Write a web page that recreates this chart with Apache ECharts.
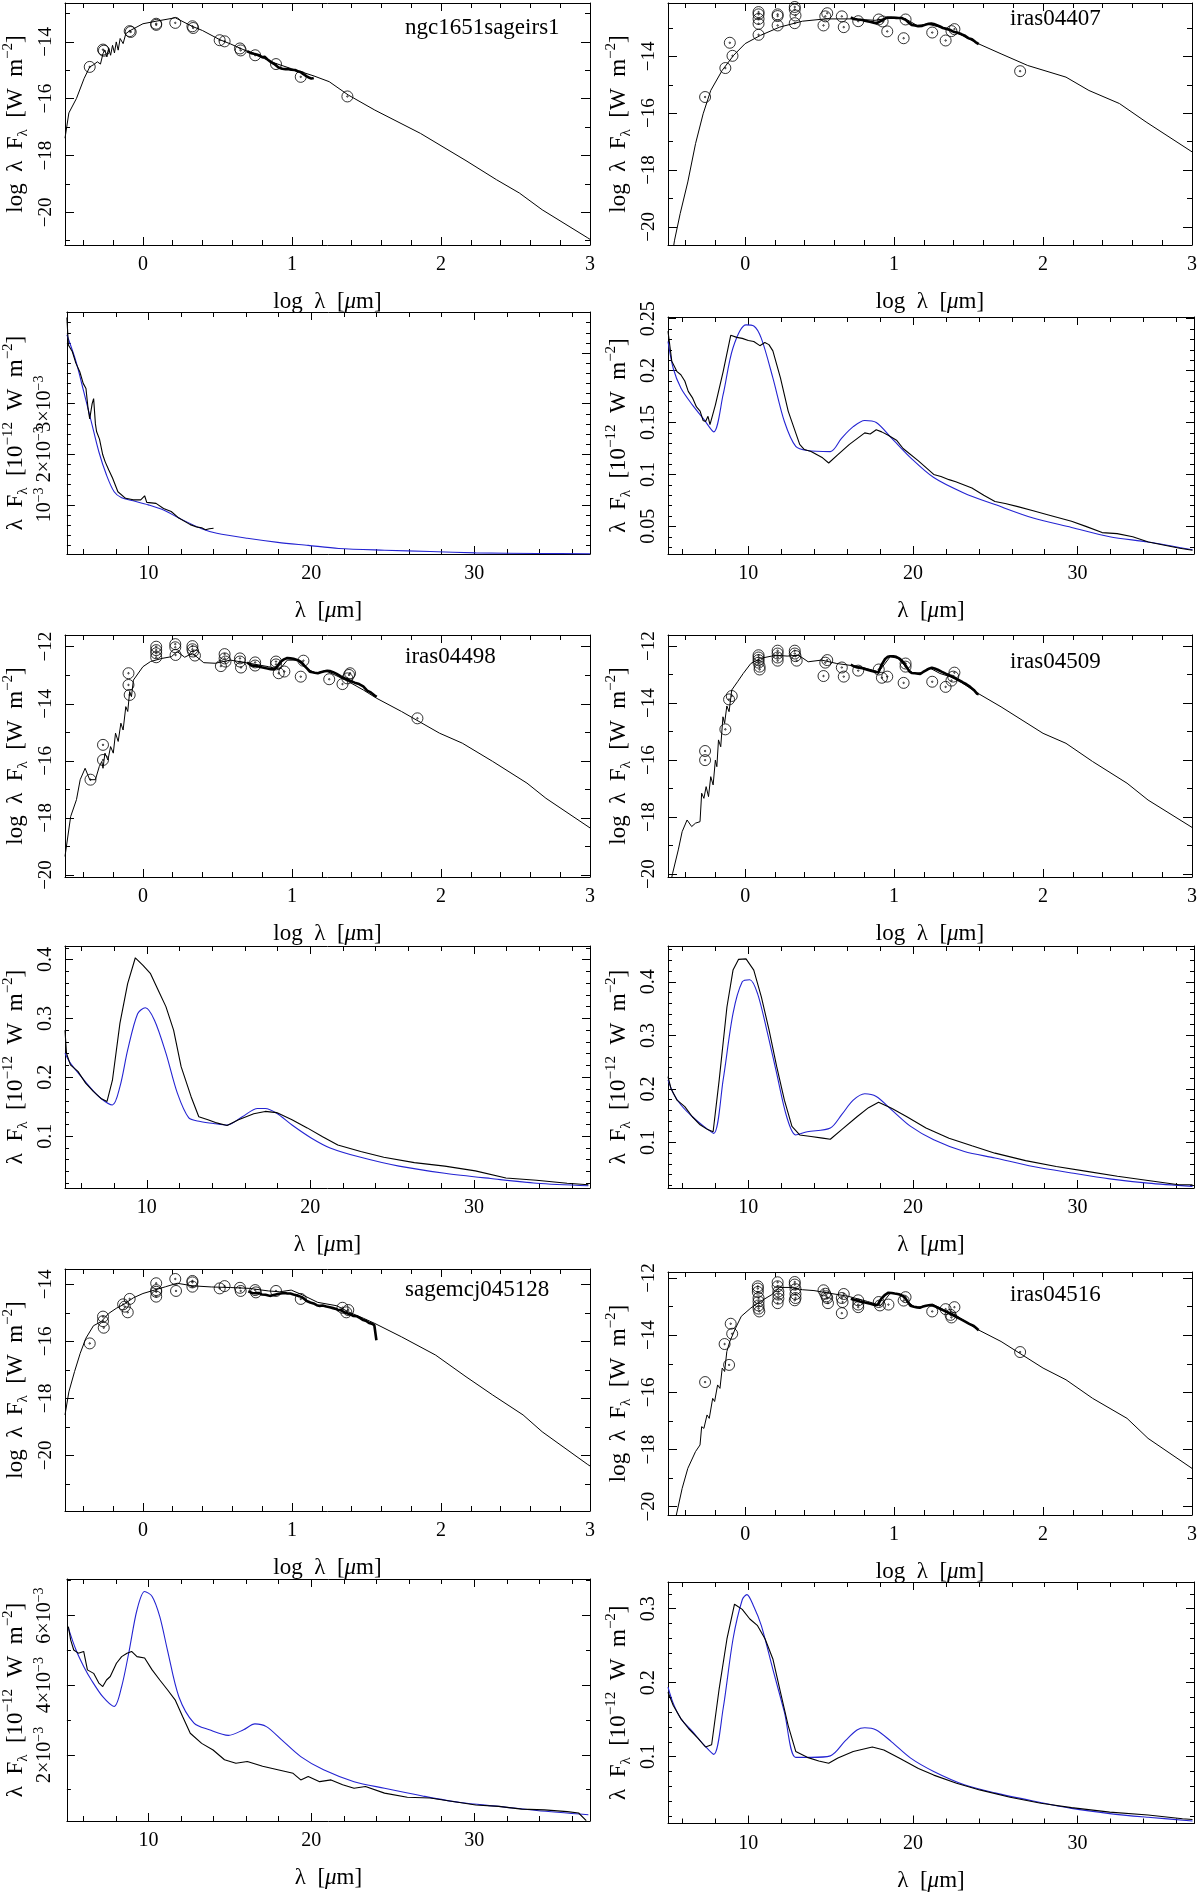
<!DOCTYPE html>
<html>
<head>
<meta charset="utf-8">
<script src="https://cdn.jsdelivr.net/npm/echarts@6/dist/echarts.min.js"></script>
<style>
    html, body { margin: 0; padding: 0; background: #fff; }
    #chart { width: 1200px; height: 1893px; }
</style>
</head>
<body>
<div id="chart"></div>
<script>
    // object names
    var sedNames = ['ngc1651sageirs1', 'iras04407', 'iras04498', 'iras04509', 'sagemcj045128', 'iras04516'];

    // ---- SED panels: [log lambda (um), log lambda F_lambda (W m^-2)]
    var sedModel1651 = [[-0.523,-17.39],[-0.497,-16.5],[-0.446,-15.99],[-0.395,-15.29],[-0.357,-14.88],[-0.33,-14.8],[-0.306,-14.7],[-0.285,-14.78],[-0.268,-14.41],[-0.255,-14.29],[-0.242,-14.53],[-0.23,-14.23],[-0.217,-14.47],[-0.204,-14.12],[-0.191,-14.39],[-0.179,-14.0],[-0.166,-14.29],[-0.153,-13.88],[-0.133,-14.06],[-0.115,-13.71],[-0.089,-13.61],[0,-13.36],[0.1,-13.26],[0.217,-13.15],[0.33,-13.45],[0.4,-13.6],[0.515,-13.92],[0.587,-14.07],[0.651,-14.22],[0.753,-14.45],[0.893,-14.76],[0.995,-14.94],[1.148,-15.2],[1.25,-15.4],[1.378,-15.87],[1.556,-16.4],[1.862,-17.22],[2.168,-18.18],[2.372,-18.85],[2.526,-19.32],[2.679,-19.91],[2.985,-20.9],[3.0,-20.95]];
    var sedPhot1651 = [[-0.357,-14.88],[-0.268,-14.27],[-0.262,-14.31],[-0.089,-13.62],[-0.082,-13.65],[0.089,-13.36],[0.089,-13.4],[0.217,-13.33],[0.332,-13.45],[0.337,-13.51],[0.515,-13.94],[0.548,-13.98],[0.651,-14.23],[0.656,-14.3],[0.753,-14.47],[0.893,-14.78],[1.059,-15.23],[1.372,-15.92]];

    var sedModel04407 = [[-0.49,-21.0],[-0.474,-20.47],[-0.436,-19.53],[-0.385,-18.42],[-0.333,-17.07],[-0.282,-16.02],[-0.231,-15.2],[-0.154,-14.49],[-0.077,-13.96],[0,-13.55],[0.103,-13.26],[0.231,-12.97],[0.385,-12.76],[0.538,-12.68],[0.718,-12.68],[0.872,-12.73],[1.0,-12.62],[1.077,-12.68],[1.154,-12.91],[1.23,-12.87],[1.308,-12.97],[1.41,-13.14],[1.564,-13.55],[1.718,-13.91],[1.897,-14.32],[2.154,-14.73],[2.308,-15.2],[2.513,-15.66],[2.692,-16.31],[3.0,-17.36]];
    var sedPhot04407 = [[-0.269,-15.43],[-0.133,-14.41],[-0.103,-13.52],[-0.085,-13.98],[0.09,-12.44],[0.09,-12.52],[0.09,-12.68],[0.09,-12.85],[0.09,-13.24],[0.218,-12.52],[0.218,-12.58],[0.218,-12.91],[0.333,-12.26],[0.333,-12.35],[0.338,-12.56],[0.333,-12.83],[0.526,-12.91],[0.538,-12.59],[0.551,-12.48],[0.649,-12.59],[0.662,-12.97],[0.759,-12.76],[0.897,-12.7],[0.923,-12.77],[0.954,-13.12],[1.064,-13.36],[1.077,-12.7],[1.256,-13.16],[1.346,-13.44],[1.385,-13.11],[1.405,-13.04],[1.846,-14.52]];

    var sedModel04498 = [[-0.523,-19.35],[-0.485,-17.95],[-0.446,-17.36],[-0.421,-16.66],[-0.388,-16.26],[-0.357,-16.66],[-0.319,-16.66],[-0.293,-16.2],[-0.276,-16.02],[-0.268,-16.26],[-0.255,-15.73],[-0.235,-15.97],[-0.217,-15.5],[-0.199,-15.73],[-0.184,-15.03],[-0.166,-15.32],[-0.148,-14.68],[-0.133,-14.92],[-0.115,-14.1],[-0.102,-14.27],[-0.089,-13.57],[-0.077,-13.75],[-0.064,-13.17],[0,-12.7],[0.051,-12.52],[0.128,-12.41],[0.191,-12.35],[0.23,-12.17],[0.28,-12.37],[0.332,-12.23],[0.408,-12.56],[0.485,-12.58],[0.587,-12.47],[0.714,-12.58],[0.842,-12.7],[0.918,-12.79],[0.969,-12.47],[1.033,-12.47],[1.097,-12.76],[1.161,-12.93],[1.224,-12.84],[1.288,-12.99],[1.378,-13.22],[1.48,-13.52],[1.569,-13.81],[1.735,-14.27],[1.99,-15.03],[2.143,-15.38],[2.347,-16.02],[2.577,-16.78],[2.704,-17.31],[3.0,-18.35]];
    var sedPhot04498 = [[-0.352,-16.66],[-0.268,-15.44],[-0.268,-15.97],[-0.097,-12.93],[-0.097,-13.34],[-0.089,-13.69],[0.089,-12.0],[0.089,-12.12],[0.089,-12.23],[0.089,-12.37],[0.217,-11.91],[0.217,-12.02],[0.219,-12.29],[0.332,-11.98],[0.332,-12.09],[0.337,-12.17],[0.349,-12.31],[0.523,-12.68],[0.548,-12.26],[0.548,-12.41],[0.554,-12.52],[0.651,-12.41],[0.651,-12.52],[0.658,-12.73],[0.753,-12.55],[0.753,-12.66],[0.893,-12.52],[0.893,-12.62],[0.911,-12.93],[0.949,-12.87],[1.059,-13.05],[1.077,-12.49],[1.25,-13.14],[1.339,-13.31],[1.372,-13.11],[1.383,-12.99],[1.39,-12.93],[1.842,-14.51]];

    var sedModel04509 = [[-0.5,-20.3],[-0.487,-19.97],[-0.449,-19.15],[-0.423,-18.51],[-0.39,-18.1],[-0.359,-18.33],[-0.333,-18.21],[-0.303,-18.16],[-0.292,-17.16],[-0.277,-17.34],[-0.262,-16.93],[-0.246,-17.28],[-0.231,-16.58],[-0.215,-16.87],[-0.2,-16.0],[-0.19,-16.23],[-0.179,-15.29],[-0.164,-15.53],[-0.149,-14.48],[-0.138,-14.71],[-0.123,-14.1],[-0.108,-14.3],[-0.09,-13.54],[-0.051,-13.25],[-0.013,-12.96],[0.038,-12.61],[0.103,-12.43],[0.205,-12.32],[0.282,-12.35],[0.359,-12.32],[0.423,-12.55],[0.513,-12.49],[0.615,-12.61],[0.769,-12.72],[0.897,-12.9],[0.974,-12.37],[1.026,-12.43],[1.077,-12.72],[1.128,-12.96],[1.192,-12.93],[1.244,-12.78],[1.308,-12.96],[1.41,-13.13],[1.564,-13.66],[1.718,-14.13],[2.0,-15.06],[2.154,-15.41],[2.333,-16.05],[2.564,-16.81],[2.705,-17.4],[3.0,-18.36]];
    var sedPhot04509 = [[-0.269,-15.68],[-0.269,-16.0],[-0.133,-14.92],[-0.108,-13.87],[-0.09,-13.75],[0.09,-12.32],[0.09,-12.4],[0.09,-12.49],[0.09,-12.58],[0.097,-12.72],[0.097,-12.82],[0.218,-12.16],[0.218,-12.26],[0.218,-12.4],[0.218,-12.51],[0.333,-12.16],[0.333,-12.26],[0.338,-12.35],[0.346,-12.51],[0.526,-13.05],[0.538,-12.58],[0.551,-12.49],[0.649,-12.75],[0.662,-13.07],[0.759,-12.86],[0.897,-12.82],[0.918,-13.11],[0.954,-13.07],[1.064,-13.29],[1.077,-12.61],[1.077,-12.72],[1.256,-13.25],[1.346,-13.43],[1.385,-13.21],[1.397,-13.07],[1.405,-12.93]];

    var sedModel045128 = [[-0.523,-18.58],[-0.497,-17.77],[-0.459,-17.06],[-0.421,-16.42],[-0.383,-15.89],[-0.332,-15.45],[-0.281,-15.31],[-0.23,-15.02],[-0.179,-14.84],[-0.128,-14.7],[-0.064,-14.47],[0,-14.32],[0.077,-14.2],[0.153,-14.08],[0.23,-13.96],[0.332,-14.05],[0.459,-14.09],[0.587,-14.11],[0.714,-14.14],[0.842,-14.23],[0.918,-14.26],[0.995,-14.2],[1.071,-14.37],[1.173,-14.63],[1.301,-14.75],[1.378,-14.96],[1.48,-15.19],[1.556,-15.37],[1.735,-15.84],[1.964,-16.48],[2.168,-17.24],[2.347,-17.88],[2.551,-18.58],[2.679,-19.17],[2.985,-20.32],[3.0,-20.37]];
    var sedPhot045128 = [[-0.357,-16.07],[-0.268,-15.13],[-0.268,-15.29],[-0.263,-15.52],[-0.133,-14.7],[-0.122,-14.78],[-0.102,-14.98],[-0.089,-14.51],[0.089,-13.96],[0.089,-14.2],[0.089,-14.26],[0.089,-14.43],[0.217,-13.81],[0.222,-14.23],[0.332,-13.88],[0.332,-13.93],[0.332,-14.08],[0.515,-14.14],[0.548,-14.06],[0.651,-14.12],[0.656,-14.23],[0.753,-14.2],[0.758,-14.28],[0.893,-14.23],[1.059,-14.51],[1.339,-14.82],[1.365,-14.98],[1.378,-14.9]];

    var sedModel04516 = [[-0.475,-21.0],[-0.462,-20.29],[-0.423,-19.36],[-0.385,-18.66],[-0.333,-18.07],[-0.303,-17.84],[-0.292,-17.2],[-0.277,-17.26],[-0.256,-16.79],[-0.241,-16.91],[-0.218,-16.21],[-0.205,-16.32],[-0.185,-15.74],[-0.169,-15.86],[-0.154,-15.15],[-0.138,-15.27],[-0.123,-14.57],[-0.103,-14.22],[-0.064,-13.75],[-0.026,-13.34],[0.038,-13.05],[0.103,-12.82],[0.179,-12.58],[0.231,-12.33],[0.308,-12.33],[0.385,-12.41],[0.462,-12.44],[0.564,-12.53],[0.692,-12.64],[0.821,-12.82],[0.91,-12.96],[0.974,-12.53],[1.038,-12.56],[1.09,-12.82],[1.141,-13.03],[1.205,-12.99],[1.256,-12.91],[1.333,-13.11],[1.41,-13.29],[1.564,-13.81],[1.718,-14.22],[2.0,-15.15],[2.154,-15.56],[2.333,-16.21],[2.564,-16.91],[2.705,-17.61],[3.0,-18.66]];
    var sedPhot04516 = [[-0.269,-15.64],[-0.138,-14.31],[-0.108,-15.04],[-0.097,-13.6],[-0.087,-13.95],[0.085,-12.29],[0.085,-12.37],[0.085,-12.49],[0.09,-12.7],[0.09,-12.82],[0.09,-12.96],[0.09,-13.07],[0.095,-13.17],[0.218,-12.15],[0.218,-12.29],[0.223,-12.47],[0.223,-12.58],[0.223,-12.72],[0.218,-12.88],[0.333,-12.14],[0.333,-12.23],[0.338,-12.39],[0.338,-12.56],[0.338,-12.7],[0.333,-12.78],[0.526,-12.43],[0.538,-12.55],[0.546,-12.64],[0.551,-12.7],[0.556,-12.88],[0.649,-12.7],[0.654,-12.84],[0.649,-13.23],[0.662,-12.56],[0.759,-12.78],[0.759,-12.93],[0.759,-13.02],[0.897,-12.84],[0.905,-12.96],[0.962,-12.93],[1.064,-12.79],[1.077,-12.67],[1.256,-13.17],[1.346,-13.09],[1.379,-13.29],[1.385,-13.38],[1.405,-13.02],[1.846,-14.59]];

    // ---- IR spectra: [lambda (um), lambda F_lambda (1e-12 W m^-2)]; obs = black, fit = blue
    var specObs1651 = [[5.0,0.0047],[5.09,0.00416],[5.33,0.00403],[5.55,0.0038],[5.79,0.00363],[6.0,0.0034],[6.17,0.0033],[6.3,0.0029],[6.4,0.0027],[6.55,0.003],[6.64,0.0031],[6.75,0.0026],[6.82,0.00245],[7.0,0.0023],[7.2,0.00199],[7.35,0.00185],[7.57,0.00169],[7.8,0.00153],[8.13,0.00126],[8.6,0.00113],[9.07,0.0011],[9.53,0.0011],[9.77,0.00118],[9.9,0.00105],[10.0,0.00107],[10.47,0.00103],[10.93,0.00093],[11.4,0.00087],[11.87,0.00074],[12.57,0.00061],[13.0,0.00056],[13.27,0.00055],[13.5,0.00051],[13.74,0.00053],[14.0,0.00054]];
    var specFit1651 = [[5.0,0.00436],[5.56,0.00383],[6.03,0.00324],[6.5,0.00264],[6.96,0.00205],[7.43,0.00159],[7.9,0.00126],[8.36,0.00114],[9.07,0.00108],[10.0,0.001],[10.93,0.0009],[11.87,0.00074],[13.27,0.00053],[14.2,0.00044],[16.07,0.00034],[17.94,0.00026],[19.81,0.0002],[21.68,0.00014],[24.49,0.000105],[27.29,0.000079],[30.09,0.000053],[33.83,0.00004],[37.1,0.000033]];

    var specObs04407 = [[5.12,0.238],[5.35,0.209],[5.67,0.199],[5.9,0.196],[6.14,0.19],[6.35,0.18],[6.6,0.174],[6.85,0.165],[7.07,0.161],[7.25,0.152],[7.4,0.151],[7.55,0.156],[7.67,0.148],[8.0,0.167],[8.47,0.199],[8.93,0.234],[9.3,0.232],[9.63,0.231],[10.0,0.229],[10.33,0.228],[10.7,0.224],[11.0,0.227],[11.25,0.225],[11.49,0.219],[11.95,0.193],[12.42,0.161],[13.12,0.129],[13.4,0.124],[13.81,0.122],[14.51,0.116],[14.88,0.111],[15.44,0.119],[16.14,0.129],[17.07,0.14],[17.4,0.139],[17.77,0.143],[18.1,0.141],[18.47,0.138],[19.0,0.133],[19.4,0.125],[20.33,0.113],[21.26,0.1],[21.7,0.098],[22.19,0.095],[22.6,0.093],[23.58,0.087],[24.3,0.08],[24.98,0.074],[25.6,0.072],[26.37,0.069],[27.3,0.065],[28.23,0.061],[29.63,0.055],[30.5,0.05],[31.49,0.044],[32.4,0.043],[33.35,0.04],[34.3,0.035],[35.21,0.032],[36.2,0.029],[36.98,0.027]];
    var specFit04407 = [[5.12,0.228],[5.44,0.202],[5.91,0.183],[6.6,0.167],[7.3,0.153],[7.9,0.141],[8.47,0.177],[9.07,0.222],[9.86,0.244],[10.33,0.243],[10.79,0.231],[11.49,0.193],[12.19,0.151],[12.88,0.127],[13.58,0.123],[14.98,0.122],[15.67,0.135],[16.37,0.146],[17.07,0.152],[17.77,0.15],[18.7,0.135],[19.86,0.116],[21.26,0.097],[23.12,0.082],[24.98,0.071],[27.3,0.058],[29.63,0.049],[31.95,0.04],[34.28,0.035],[36.98,0.0275]];

    var specObs04498 = [[5.0,0.28],[5.09,0.241],[5.33,0.221],[5.79,0.21],[6.26,0.19],[6.73,0.176],[7.2,0.164],[7.57,0.159],[7.9,0.195],[8.36,0.292],[8.83,0.359],[9.3,0.403],[9.77,0.39],[10.23,0.376],[10.7,0.348],[11.17,0.32],[11.64,0.28],[12.1,0.218],[12.71,0.167],[13.18,0.133],[13.74,0.128],[14.2,0.123],[14.91,0.118],[15.61,0.128],[16.54,0.138],[17.24,0.142],[17.94,0.14],[18.88,0.128],[19.81,0.114],[20.75,0.099],[21.68,0.085],[23.08,0.074],[24.49,0.064],[26.36,0.055],[28.22,0.049],[30.09,0.041],[31.96,0.029],[33.83,0.025],[35.7,0.02],[37.0,0.0175]];
    var specFit04498 = [[5.0,0.241],[5.33,0.224],[5.79,0.208],[6.5,0.184],[7.2,0.164],[7.9,0.153],[8.36,0.184],[8.83,0.246],[9.44,0.308],[9.91,0.318],[10.47,0.297],[11.17,0.241],[11.87,0.173],[12.57,0.131],[13.27,0.125],[14.21,0.121],[14.91,0.119],[15.84,0.133],[16.78,0.147],[17.24,0.147],[17.94,0.139],[18.88,0.119],[20.05,0.097],[21.21,0.08],[23.08,0.064],[25.42,0.049],[28.22,0.037],[31.03,0.028],[33.83,0.02],[37.0,0.0158]];

    var specObs04509 = [[5.12,0.223],[5.3,0.201],[5.67,0.179],[6.14,0.167],[6.6,0.148],[7.07,0.133],[7.53,0.124],[7.86,0.12],[8.23,0.217],[8.7,0.353],[9.07,0.422],[9.4,0.442],[9.86,0.443],[10.33,0.422],[10.79,0.372],[11.26,0.31],[11.72,0.242],[12.19,0.179],[12.65,0.13],[13.12,0.114],[13.81,0.111],[14.51,0.108],[14.98,0.106],[15.67,0.124],[16.6,0.148],[17.3,0.165],[17.91,0.175],[18.7,0.164],[19.63,0.148],[20.79,0.127],[22.19,0.108],[23.58,0.094],[24.98,0.08],[26.84,0.066],[28.7,0.055],[30.56,0.046],[32.42,0.037],[34.28,0.029],[36.14,0.021],[36.98,0.021]];
    var specFit04509 = [[5.12,0.217],[5.44,0.192],[5.91,0.17],[6.6,0.148],[7.3,0.13],[7.9,0.117],[8.47,0.217],[9.07,0.341],[9.63,0.4],[10.09,0.404],[10.56,0.378],[11.12,0.31],[11.72,0.229],[12.33,0.148],[12.88,0.114],[13.58,0.12],[14.98,0.127],[15.67,0.152],[16.37,0.179],[17.07,0.191],[17.77,0.186],[18.7,0.161],[19.86,0.13],[21.26,0.105],[23.12,0.083],[24.98,0.071],[27.3,0.055],[29.63,0.043],[31.95,0.032],[34.28,0.024],[36.98,0.018]];

    var specObs045128 = [[5.09,0.00568],[5.23,0.0053],[5.42,0.00501],[5.7,0.00492],[6.03,0.00497],[6.26,0.00444],[6.64,0.00434],[6.96,0.00406],[7.2,0.00396],[7.43,0.00415],[7.66,0.00425],[8.04,0.00463],[8.36,0.00482],[8.69,0.00492],[8.97,0.00497],[9.3,0.00482],[9.77,0.00478],[10.23,0.00444],[10.7,0.00415],[11.17,0.00387],[11.64,0.00358],[12.1,0.0031],[12.57,0.00262],[13.27,0.00233],[13.97,0.00214],[14.67,0.00186],[15.37,0.00176],[16.07,0.00181],[17.01,0.00167],[17.94,0.00157],[18.88,0.00147],[19.35,0.00128],[19.81,0.00138],[20.51,0.00123],[21.21,0.00128],[21.92,0.00114],[22.62,0.00104],[23.32,0.00109],[24.49,0.0009],[25.89,0.00078],[27.29,0.00076],[28.69,0.00066],[30.09,0.00056],[31.5,0.00052],[32.9,0.00044],[34.3,0.00042],[35.7,0.00037],[36.4,0.00033],[36.87,0.00011]];
    var specFit045128 = [[5.09,0.00564],[5.56,0.00501],[6.03,0.00454],[6.5,0.00415],[7.2,0.00367],[7.9,0.00339],[8.36,0.00396],[8.83,0.00501],[9.3,0.00616],[9.77,0.00669],[10.23,0.00655],[10.7,0.00597],[11.17,0.00501],[11.87,0.00367],[12.8,0.00291],[13.74,0.00272],[14.91,0.00256],[15.84,0.00272],[16.54,0.00289],[17.24,0.00281],[18.18,0.00243],[19.35,0.00195],[20.75,0.00157],[22.62,0.00123],[24.49,0.00104],[26.82,0.00082],[29.16,0.00063],[31.5,0.00052],[33.83,0.0004],[37.0,0.00028]];

    var specObs04516 = [[5.12,0.187],[5.44,0.169],[5.91,0.151],[6.37,0.138],[6.93,0.125],[7.4,0.113],[7.77,0.116],[8.23,0.192],[8.7,0.259],[9.16,0.306],[9.63,0.299],[10.09,0.286],[10.56,0.277],[11.02,0.259],[11.49,0.232],[11.95,0.187],[12.42,0.142],[12.88,0.107],[13.58,0.099],[14.28,0.094],[14.88,0.091],[15.44,0.098],[16.37,0.107],[17.53,0.113],[18.23,0.109],[19.16,0.098],[20.33,0.084],[21.26,0.075],[22.65,0.064],[24.05,0.055],[25.9,0.045],[27.77,0.037],[29.63,0.031],[31.95,0.025],[34.28,0.021],[36.37,0.016],[36.98,0.015]];
    var specFit04516 = [[5.12,0.194],[5.44,0.172],[5.91,0.151],[6.6,0.134],[7.3,0.116],[7.9,0.103],[8.47,0.165],[9.07,0.259],[9.63,0.312],[9.91,0.319],[10.33,0.303],[10.79,0.277],[11.49,0.218],[12.19,0.16],[12.88,0.099],[13.81,0.099],[14.98,0.101],[15.91,0.122],[16.6,0.136],[17.07,0.139],[17.77,0.136],[18.7,0.12],[19.86,0.098],[21.26,0.08],[23.12,0.062],[24.98,0.051],[27.3,0.04],[29.63,0.03],[31.95,0.023],[34.28,0.018],[36.98,0.013]];

    // ---- panel layout (pixel boxes) and axis ranges
    var FONT = "'Liberation Serif','DejaVu Serif',serif";
    var BLUE = '#2424d2';
    var CIRCLE = 'path://M0,-10A10,10,0,1,1,0,10A10,10,0,1,1,0,-10ZM0,-1.3A1.3,1.3,0,1,1,0,1.3A1.3,1.3,0,1,1,0,-1.3Z';

    var panels = [
        { kind: 'sed', box: [63, 3, 527, 242], x: [-0.523, 3], y: [-21.15, -12.63], model: sedModel1651, phot: sedPhot1651, obs: specObs1651, name: sedNames[0], nameTop: 16 },
        { kind: 'sed', box: [668, 3, 526, 242], x: [-0.518, 3], y: [-20.64, -12.12], model: sedModel04407, phot: sedPhot04407, obs: specObs04407, name: sedNames[1], nameTop: 7 },
        { kind: 'spec', box: [63, 312, 527, 242], x: [5.0, 37.1], y: [0.00003, 0.00481], obs: specObs1651, fit: specFit1651, major: 0.001, minor: 0.0002, fmt: 'e3' },
        { kind: 'spec', box: [668, 317, 526, 237], x: [5.12, 37.07], y: [0.0234, 0.2516], obs: specObs04407, fit: specFit04407, major: 0.05, minor: 0.01 },
        { kind: 'sed', box: [63, 635, 527, 242], x: [-0.523, 3], y: [-20.07, -11.59], model: sedModel04498, phot: sedPhot04498, obs: specObs04498, name: sedNames[2], nameTop: 645 },
        { kind: 'sed', box: [668, 635, 526, 242], x: [-0.518, 3], y: [-20.1, -11.61], model: sedModel04509, phot: sedPhot04509, obs: specObs04509, name: sedNames[3], nameTop: 650 },
        { kind: 'spec', box: [63, 946, 527, 242], x: [5.0, 37.1], y: [0.0119, 0.423], obs: specObs04498, fit: specFit04498, major: 0.1, minor: 0.02 },
        { kind: 'spec', box: [668, 946, 526, 242], x: [5.12, 37.07], y: [0.0149, 0.467], obs: specObs04509, fit: specFit04509, major: 0.1, minor: 0.02 },
        { kind: 'sed', box: [63, 1269, 527, 242], x: [-0.523, 3], y: [-21.95, -13.46], model: sedModel045128, phot: sedPhot045128, obs: specObs045128, name: sedNames[4], nameTop: 1278 },
        { kind: 'sed', box: [668, 1272, 526, 243], x: [-0.518, 3], y: [-20.29, -11.79], model: sedModel04516, phot: sedPhot04516, obs: specObs04516, name: sedNames[5], nameTop: 1283 },
        { kind: 'spec', box: [63, 1579, 527, 242], x: [5.0, 37.1], y: [0.0001, 0.00705], obs: specObs045128, fit: specFit045128, major: 0.002, minor: 0.001, fmt: 'e3' },
        { kind: 'spec', box: [668, 1582, 526, 243], x: [5.12, 37.07], y: [0.0096, 0.336], obs: specObs04516, fit: specFit04516, major: 0.1, minor: 0.02 }
    ];

    function ticks(min, max, step) {
        var out = [];
        var k0 = Math.ceil(min / step - 1e-6), k1 = Math.floor(max / step + 1e-6);
        for (var k = k0; k <= k1; k++) out.push(parseFloat((k * step).toPrecision(8)));
        return out;
    }
    function minorTicks(min, max, step, majors) {
        return ticks(min, max, step).filter(function (v) {
            return majors.every(function (m) { return Math.abs(m - v) > step / 10; });
        });
    }
    function fmtSed(v) { return (v < 0 ? '\u2212' : '') + Math.abs(v); }
    function fmtE3(v) {
        var k = Math.round(v * 1000);
        return (k === 1 ? '{n|10}' : '{n|' + k + '\u00d710}') + '{p|\u22123}';
    }

    var richText = {
        t: { fontFamily: FONT, fontSize: 23, color: '#000', lineHeight: 30 },
        i: { fontFamily: FONT, fontSize: 23, color: '#000', fontStyle: 'italic', lineHeight: 30 },
        s: { fontFamily: FONT, fontSize: 15, color: '#000', verticalAlign: 'bottom' },
        p: { fontFamily: FONT, fontSize: 15, color: '#000', verticalAlign: 'top' }
    };
    var labelRich = {
        n: { fontFamily: FONT, fontSize: 20, color: '#000', lineHeight: 26 },
        p: { fontFamily: FONT, fontSize: 14, color: '#000', verticalAlign: 'top' }
    };

    var grids = [], xAxes = [], yAxes = [], series = [], titles = [];

    // 4 axes per side: main (with labels), minor ticks, and mirrored on the opposite side
    function pushAxes(list, dim, gi, range, majors, minors, label, labelSize, name, nameGap, majLen, minLen) {
        var pos = dim === 'x' ? ['bottom', 'top'] : ['left', 'right'];
        var base = { gridIndex: gi, type: 'value', min: range[0], max: range[1], splitLine: { show: false }, silent: true };
        list.push(Object.assign({}, base, {
            position: pos[0],
            axisLine: { show: true, onZero: false, lineStyle: { color: '#000', width: 1 } },
            axisTick: { show: true, inside: true, length: majLen, customValues: majors, lineStyle: { color: '#000' } },
            axisLabel: {
                show: true, customValues: majors, formatter: label, color: '#000', fontFamily: FONT,
                fontSize: labelSize, margin: dim === 'x' ? 10 : 9, rotate: dim === 'x' ? 0 : 90, rich: labelRich
            },
            name: name, nameLocation: 'middle', nameGap: nameGap, nameRotate: dim === 'x' ? 0 : 90,
            nameTextStyle: { rich: richText }
        }));
        list.push(Object.assign({}, base, {
            position: pos[0],
            axisLine: { show: false, onZero: false },
            axisTick: { show: true, inside: true, length: minLen, customValues: minors, lineStyle: { color: '#000' } },
            axisLabel: { show: false }
        }));
        list.push(Object.assign({}, base, {
            position: pos[1],
            axisLine: { show: true, onZero: false, lineStyle: { color: '#000', width: 1 } },
            axisTick: { show: true, inside: true, length: majLen, customValues: majors, lineStyle: { color: '#000' } },
            axisLabel: { show: false }
        }));
        list.push(Object.assign({}, base, {
            position: pos[1],
            axisLine: { show: false, onZero: false },
            axisTick: { show: true, inside: true, length: minLen, customValues: minors, lineStyle: { color: '#000' } },
            axisLabel: { show: false }
        }));
    }

    panels.forEach(function (p, gi) {
        grids.push({ left: p.box[0], top: p.box[1], width: p.box[2], height: p.box[3], containLabel: false });
        var xi = gi * 4, yi = gi * 4;
        if (p.kind === 'sed') {
            var xMaj = ticks(p.x[0], p.x[1], 1), yMaj = ticks(p.y[0], p.y[1], 2);
            pushAxes(xAxes, 'x', gi, p.x, xMaj, minorTicks(p.x[0], p.x[1], 0.2, xMaj),
                function (v) { return String(v); }, 20, '{t|log  \u03bb  [}{i|\u03bc}{t|m]}', 42, 8, 5);
            pushAxes(yAxes, 'y', gi, p.y, yMaj, minorTicks(p.y[0], p.y[1], 1, yMaj),
                fmtSed, 19, '{t|log  \u03bb  F}{s|\u03bb}{t|  [W  m}{p|\u22122}{t|]}', 34, 9, 5);
            series.push({
                type: 'line', xAxisIndex: xi, yAxisIndex: yi, data: p.model, showSymbol: false, silent: true,
                lineStyle: { color: '#000', width: 1 }, clip: true
            });
            // IRS spectrum of the panel below, shown in log units
            series.push({
                type: 'line', xAxisIndex: xi, yAxisIndex: yi, showSymbol: false, silent: true, clip: true,
                data: p.obs.map(function (d) { return [Math.log10(d[0]), Math.log10(d[1] * 1e-12)]; }),
                lineStyle: { color: '#000', width: 2.6 }
            });
            series.push({
                type: 'scatter', xAxisIndex: xi, yAxisIndex: yi, data: p.phot, symbol: CIRCLE, symbolSize: 11, silent: true,
                itemStyle: { color: 'rgba(0,0,0,0)', borderColor: '#000', borderWidth: 1 }
            });
            titles.push({
                text: p.name, left: p.box[0] + 342, top: p.nameTop, padding: 0,
                textStyle: { fontFamily: FONT, fontSize: 23, fontWeight: 'normal', color: '#000' }
            });
        } else {
            var sxMaj = [10, 20, 30], syMaj = ticks(p.y[0], p.y[1], p.major);
            pushAxes(xAxes, 'x', gi, p.x, sxMaj, minorTicks(p.x[0], p.x[1], 2, sxMaj),
                function (v) { return String(v); }, 20, '{t|\u03bb  [}{i|\u03bc}{t|m]}', 42, 8, 5);
            pushAxes(yAxes, 'y', gi, p.y, syMaj, minorTicks(p.y[0], p.y[1], p.minor, syMaj),
                p.fmt === 'e3' ? fmtE3 : function (v) { return String(v); }, 20,
                '{t|\u03bb  F}{s|\u03bb}{t|  [10}{p|\u221212}{t|  W  m}{p|\u22122}{t|]}', 34, 8, 4);
            series.push({
                type: 'line', xAxisIndex: xi, yAxisIndex: yi, data: p.fit, showSymbol: false, silent: true, clip: true,
                smooth: 0.3, lineStyle: { color: BLUE, width: 1.1 }
            });
            series.push({
                type: 'line', xAxisIndex: xi, yAxisIndex: yi, data: p.obs, showSymbol: false, silent: true, clip: true,
                lineStyle: { color: '#000', width: 1.1 }
            });
        }
    });

    var chart = echarts.init(document.getElementById('chart'));
    chart.setOption({
        animation: false,
        backgroundColor: '#fff',
        title: titles,
        grid: grids,
        xAxis: xAxes,
        yAxis: yAxes,
        series: series
    });
</script>
</body>
</html>
